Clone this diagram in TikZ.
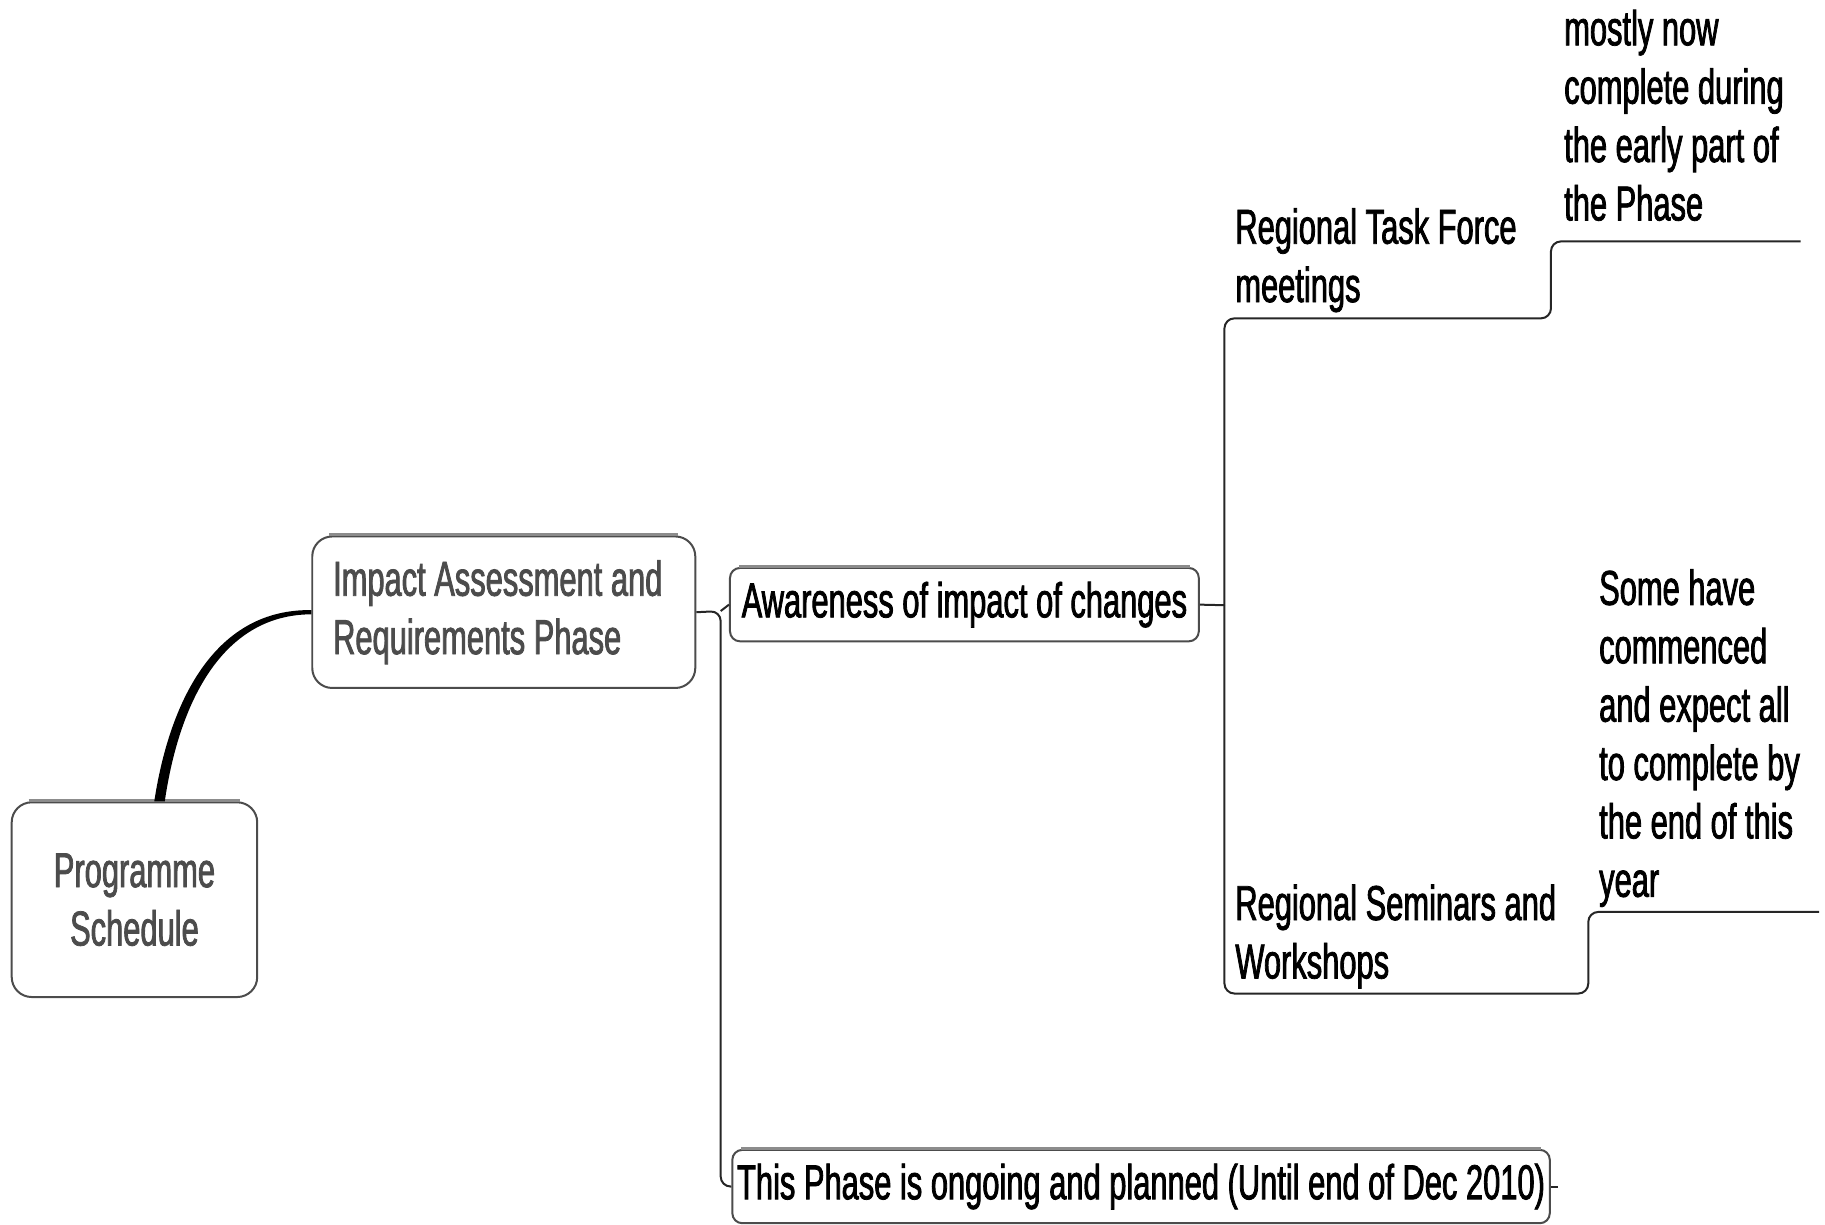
\documentclass[tikz,border=0pt]{standalone}
\usepackage{fontspec}
\setmainfont[FakeStretch=0.63,FakeBold=1.6]{Liberation Sans}
\usetikzlibrary{calc}
\begin{document}
\begin{tikzpicture}[x=0.5833pt,y=-0.5833pt,
  every node/.style={font=\fontsize{24.5}{29.2}\selectfont},
  box/.style={draw=black!70, line width=1pt, fill=white, rounded corners=10pt, inner sep=0pt, align=center},
  sbox/.style={box, rounded corners=5pt},
  lbl/.style={inner sep=0pt, align=left, anchor=base west},
  conn/.style={draw=black!85, line width=1pt, rounded corners=5pt},
  topline/.style={draw=black!45, line width=1.4pt}]
\useasboundingbox (0,0) rectangle (1565,1050);
% boxes
\node[box, minimum width=122.8pt, minimum height=97.4pt, text=black!70] (prog) at (115.3,771.5) {Programme\\Schedule};
\node[box, minimum width=191.6pt, minimum height=75.8pt, text=black!70, align=left] (imp) at (432,525) {Impact Assessment and\rule{6pt}{0pt}\\Requirements Phase};
\node[sbox, minimum width=234.5pt, minimum height=36.7pt] (aw) at (827,518.5) {Awareness of impact of changes};
\node[sbox, minimum width=408.9pt, minimum height=36.7pt] (bot) at (978.5,1017.5) {This Phase is ongoing and planned (Until end of Dec 2010)};
% top accents
\foreach \b in {prog,imp}{\draw[topline] ([xshift=9pt,yshift=0.3pt]\b.north west) -- ([xshift=-9pt,yshift=0.3pt]\b.north east);}
\foreach \b in {aw,bot}{\draw[topline] ([xshift=5pt,yshift=0.3pt]\b.north west) -- ([xshift=-5pt,yshift=0.3pt]\b.north east);}
% free text labels (anchored at the baseline of the last line)
\node[lbl] (rtf) at (1059,259) {Regional Task Force\\meetings};
\node[lbl] (mostly) at (1341,189) {mostly now\\complete during\\the early part of\\the Phase};
\node[lbl] (rsw) at (1059,839) {Regional Seminars and\\Workshops};
\node[lbl] (some) at (1371,769) {Some have\\commenced\\and expect all\\to complete by\\the end of this\\year};
% junctions
\coordinate (j1) at (618,524);
\coordinate (j2) at (1050,519);
\coordinate (u1) at (1330,273);
\coordinate (u2) at (1544,207);
\coordinate (u3) at (1362,852);
\coordinate (u4) at (1560,782);
% thick tapered connector
\fill[black] ($(prog.north)+(17,0)$) .. controls (146,598) and (186,522) .. ($(imp.west)+(0,-1.8)$) -- ($(imp.west)+(0,1.8)$) .. controls (192,527) and (154,600) .. ($(prog.north)+(26,0)$) -- cycle;
% connectors
\draw[conn] (imp.east) -- (j1) |- (bot.west);
\draw[conn] (j1) -- (aw.west);
\draw[conn] (aw.east) -- (j2);
\draw[conn] (j2) |- (u1) |- (u2);
\draw[conn] (j2) |- (u3) |- (u4);
\draw[conn] (bot.east) -- ++(6,0);
\end{tikzpicture}
\end{document}
